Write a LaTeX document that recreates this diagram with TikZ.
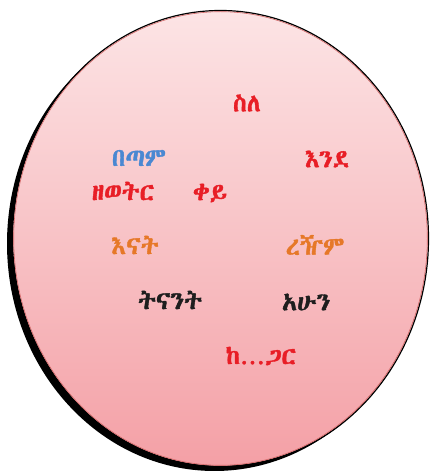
\documentclass[tikz,border=0pt]{standalone}
\usepackage{fontspec}
\IfFontExistsTF{Abyssinica SIL}{\newfontfamily\ethfont[FakeBold=1.5]{Abyssinica SIL}}{%
 \IfFontExistsTF{FreeSerif}{\newfontfamily\ethfont[FakeBold=1.5]{FreeSerif}}{%
  \IfFontExistsTF{FreeSans}{\newfontfamily\ethfont[FakeBold=1.5]{FreeSans}}{%
   \IfFontExistsTF{GF Zemen Unicode}{\newfontfamily\ethfont[FakeBold=1.5]{GF Zemen Unicode}}{%
    \newfontfamily\ethfont[FakeBold=1.5]{DejaVu Sans}}}}}
\definecolor{wred}{RGB}{232,30,38}
\definecolor{wblue}{RGB}{74,136,210}
\definecolor{worange}{RGB}{230,120,40}
\definecolor{wblack}{RGB}{30,30,30}
\definecolor{ptop}{RGB}{252,228,229}
\definecolor{pbot}{RGB}{244,160,166}
\begin{document}
\begin{tikzpicture}[x=1pt,y=1pt,
  word/.style={font=\ethfont\fontsize{25}{28}\selectfont, inner sep=0pt, anchor=center}]
\useasboundingbox (0,0) rectangle (434,474);
\coordinate (c) at (220.5,235.5);
\fill[black] ([shift={(-6,-5)}]c) ellipse [x radius=207.5, y radius=227.5];
\shade[top color=ptop, bottom color=pbot] (c) ellipse [x radius=207.5, y radius=227.5];
\draw[black, line width=1.2pt] (c) ellipse [x radius=208, y radius=228];
\draw[red!70!black!60, line width=0.6pt] (c) ellipse [x radius=206.8, y radius=226.8];
\node[word, text=wred]    (w1)  at (247,371) {ስለ};
\node[word, text=wblue]   (w2)  at (139,316) {በጣም};
\node[word, text=wred]    (w3)  at (327,315) {እንደ};
\node[word, text=wred]    (w4)  at (123,283) {ዘወትር};
\node[word, text=wred]    (w5)  at (210,281) {ቀይ};
\node[word, text=worange] (w6)  at (135,229) {እናት};
\node[word, text=worange] (w7)  at (315,229) {ረዥም};
\node[word, text=wblack]  (w8)  at (170,174) {ትናንት};
\node[word, text=wblack]  (w9)  at (306,172) {አሁን};
\node[word, text=wred]    (w10) at (261,118) {ከ…ጋር};
\end{tikzpicture}
\end{document}
